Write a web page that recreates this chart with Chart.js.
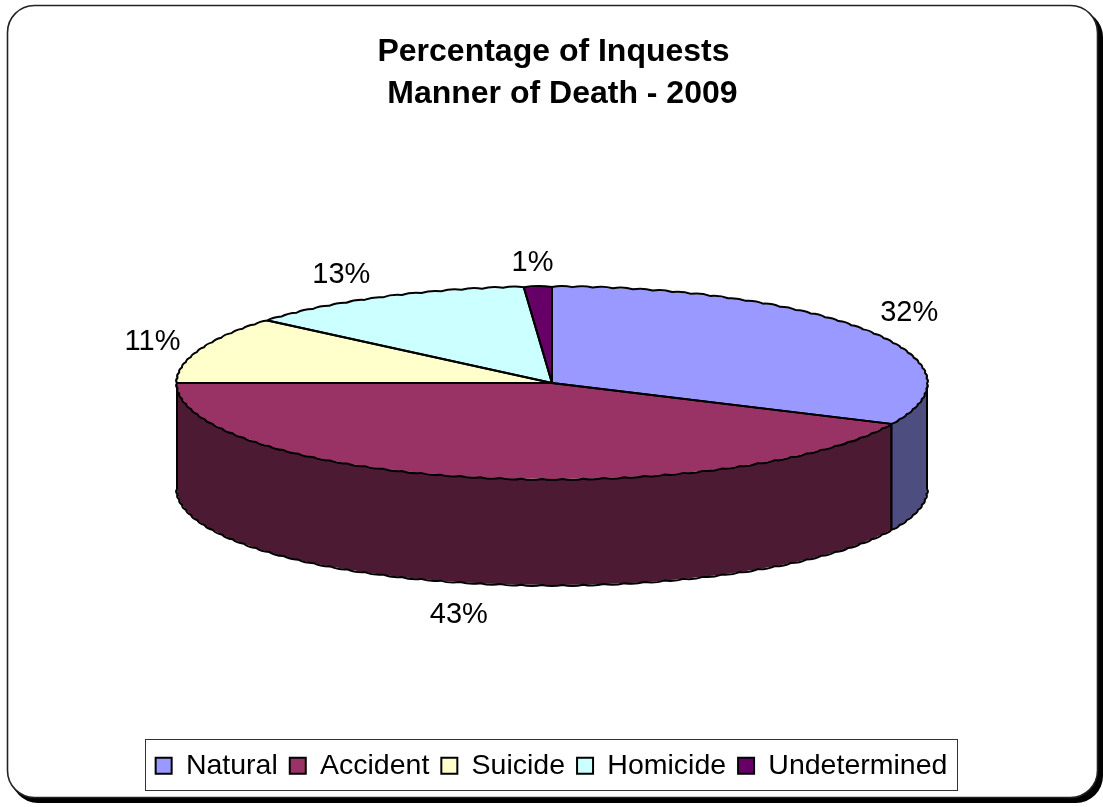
<!DOCTYPE html>
<html><head><meta charset="utf-8">
<style>html,body{margin:0;padding:0;background:#fff}canvas{display:block}</style>
<script src="https://cdn.jsdelivr.net/npm/chart.js@4"></script>
</head><body>
<canvas id="c" width="1103" height="807"></canvas>
<script>
const categories = ['Natural','Accident','Suicide','Homicide','Undetermined'];
const shares = [32.0,43.0,11.3,12.5,1.2];
const pctLabels = ['32%','43%','11%','13%','1%'];
const topColors = ['#9999FF','#993366','#FFFFCC','#CCFFFF','#660066'];
const wallColors = ['#4D4D80','#4D1A33','#808066','#668080','#330033'];
const titleLines = ['Percentage of Inquests','  Manner of Death - 2009'];

const FONT = '"Liberation Sans", Arial, sans-serif';
const PIE = {cx:552, cy:383, rx:375, ry:96, depth:106};
const labelPad = [[48,35],[52,36],[51,21],[92,25],[142,24]];

function roundRect(ctx,x,y,w,h,r){ctx.beginPath();ctx.roundRect(x,y,w,h,r);}

// Trace a slightly scalloped rim along the ellipse, as in the reference's rendering.
function rim(ctx,cy,a,b){
  const {cx,rx,ry} = PIE, step = 0.055, n = Math.max(1,Math.round((b-a)/step));
  const px = t=>cx+rx*Math.cos(t), py = t=>cy+ry*Math.sin(t);
  ctx.moveTo(px(a),py(a));
  for(let i=0;i<n;i++){
    const t0=a+(b-a)*i/n, t1=a+(b-a)*(i+1)/n, m=(t0+t1)/2;
    ctx.quadraticCurveTo(px(m)+2.2*Math.cos(m),py(m)+2.2*Math.sin(m),px(t1),py(t1));
  }
}

const pie3d = {
  id:'pie3d',
  beforeDraw(chart){
    const ctx = chart.ctx;
    ctx.save();
    ctx.fillStyle='#000';
    roundRect(ctx,11,10,1092,793,27);ctx.fill();
    ctx.fillStyle='#fff';ctx.strokeStyle='#222';ctx.lineWidth=1.6;
    roundRect(ctx,7.5,5.5,1090,792,27);ctx.fill();ctx.stroke();
    ctx.strokeStyle='#333';ctx.lineWidth=1;
    ctx.strokeRect(145.5,739.5,812,51);
    ctx.restore();
  },
  beforeDatasetsDraw(chart){
    const ctx = chart.ctx, arcs = chart.getDatasetMeta(0).data, {cx,cy,rx,ry,depth} = PIE;
    ctx.save();
    ctx.strokeStyle = '#000';ctx.lineWidth = 2;ctx.lineJoin='round';
    arcs.forEach((arc,i)=>{
      const a = Math.max(arc.startAngle,0), b = Math.min(arc.endAngle,Math.PI);
      if (b<=a) return;
      ctx.beginPath();
      ctx.ellipse(cx,cy,rx,ry,0,a,b);
      ctx.ellipse(cx,cy+depth,rx,ry,0,b,a,true);
      ctx.closePath();
      ctx.fillStyle = wallColors[i];
      ctx.fill();
      ctx.beginPath();
      rim(ctx,cy+depth,a,b);
      ctx.moveTo(cx+rx*Math.cos(a),cy+ry*Math.sin(a));
      ctx.lineTo(cx+rx*Math.cos(a),cy+depth+ry*Math.sin(a));
      ctx.moveTo(cx+rx*Math.cos(b),cy+ry*Math.sin(b));
      ctx.lineTo(cx+rx*Math.cos(b),cy+depth+ry*Math.sin(b));
      ctx.stroke();
    });
    ctx.restore();
    const first = arcs[0];
    ctx.save();
    ctx.translate(cx,cy);
    ctx.scale(1,ry/rx);
    ctx.translate(-first.x,-first.y);
  },
  afterDatasetsDraw(chart){
    const ctx = chart.ctx, arcs = chart.getDatasetMeta(0).data, {cx,cy,rx,ry,depth} = PIE;
    ctx.restore();
    ctx.save();
    ctx.strokeStyle='#000';ctx.lineWidth=2;ctx.lineJoin='round';
    arcs.forEach(arc=>{
      ctx.beginPath();
      ctx.moveTo(cx,cy);
      ctx.lineTo(cx+rx*Math.cos(arc.startAngle),cy+ry*Math.sin(arc.startAngle));
      rim(ctx,cy,arc.startAngle,arc.endAngle);
      ctx.lineTo(cx,cy);
      ctx.stroke();
    });
    ctx.fillStyle='#000';
    ctx.font='29px '+FONT;
    ctx.textAlign='center';ctx.textBaseline='middle';
    arcs.forEach((arc,i)=>{
      const m=(arc.startAngle+arc.endAngle)/2, c=Math.cos(m), s=Math.sin(m);
      const x=cx+(rx+labelPad[i][0])*c;
      const y=cy+(ry+labelPad[i][1])*s+(s>0.5?depth*s:0);
      ctx.fillText(pctLabels[i],x,y);
    });
    ctx.restore();
  },
  afterLayout(chart){ chart.titleBlock.left += 4; }
};

new Chart(document.getElementById('c'),{
  type:'pie',
  data:{labels:categories,datasets:[{data:shares,backgroundColor:topColors,borderWidth:0,clip:false,radius:375}]},
  plugins:[pie3d],
  options:{
    responsive:false,animation:false,
    layout:{padding:{top:31,bottom:17,left:0,right:0}},
    plugins:{
      tooltip:{enabled:false},
      title:{display:true,text:titleLines,color:'#000',font:{family:FONT,size:32,weight:'bold',lineHeight:1.31},padding:{top:0,bottom:0}},
      legend:{position:'bottom',labels:{
        color:'#000',font:{family:FONT,size:28.5},boxWidth:16,boxHeight:16,padding:12,
        generateLabels(chart){
          return Chart.overrides.pie.plugins.legend.labels.generateLabels(chart).map(l=>Object.assign(l,{strokeStyle:'#000',lineWidth:2}));
        }
      }}
    }
  }
});
</script>
</body></html>
